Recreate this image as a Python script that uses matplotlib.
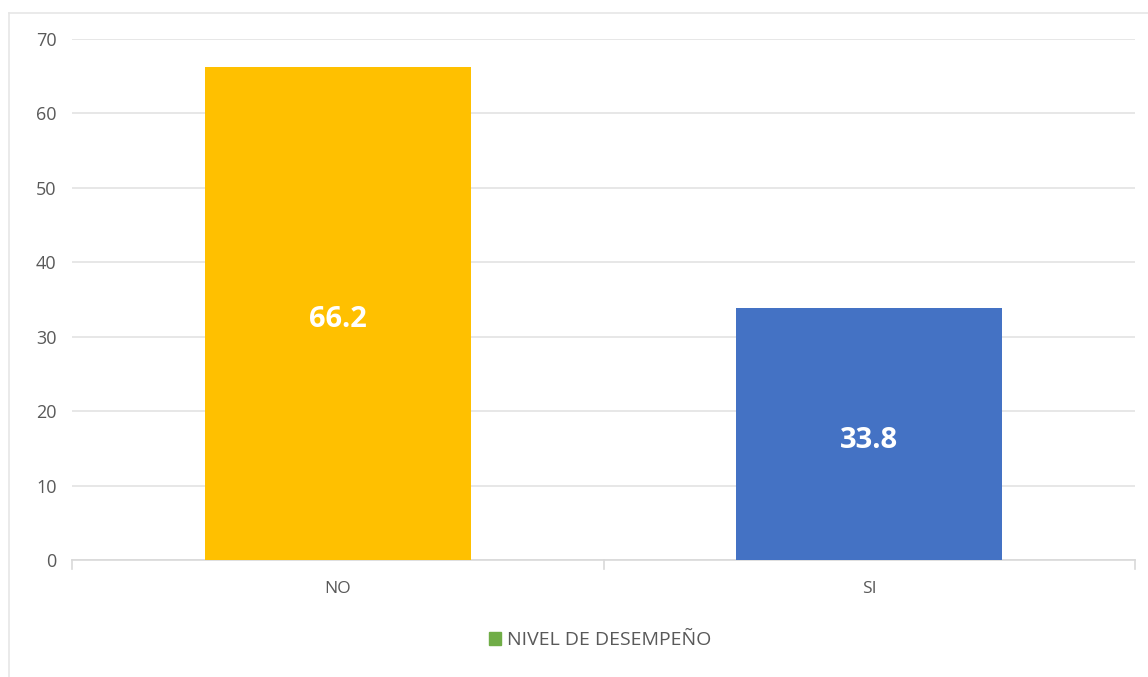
import matplotlib
matplotlib.use("Agg")
import matplotlib.pyplot as plt
from matplotlib.patches import Patch
from matplotlib.lines import Line2D

categories = ["NO", "SI"]
values = [66.2, 33.8]
bar_colors = ["#FFC000", "#4472C4"]
series_name = "NIVEL DE DESEMPEÑO"
yticks = [0, 10, 20, 30, 40, 50, 60, 70]

plt.rcParams['font.family'] = ['Open Sans', 'DejaVu Sans']

W, H = 1148, 677
fig = plt.figure(figsize=(W/100, H/100), dpi=100)
fig.patch.set_facecolor("white")

# faint frame
fig.add_artist(Line2D([9/W, 9/W], [0, 1-13/H], transform=fig.transFigure, color="#e6e6e6", lw=1.2))
fig.add_artist(Line2D([9/W, 1], [1-13/H, 1-13/H], transform=fig.transFigure, color="#e6e6e6", lw=1.2))

ax = fig.add_axes([72/W, 1-560/H, (1135-72)/W, (560-39)/H])
x = list(range(len(categories)))
bars = ax.bar(x, values, width=0.5, color=bar_colors, zorder=3)
ax.set_xlim(-0.5, len(categories)-0.5)
ax.set_ylim(0, 70)
ax.set_yticks(yticks)
ax.grid(axis="y", color="#e3e3e3", lw=1.2, zorder=0)
for s in ["top", "right", "left"]:
    ax.spines[s].set_visible(False)
ax.spines["bottom"].set_color("#d9d9d9")
ax.spines["bottom"].set_linewidth(1.2)
ax.tick_params(axis="y", length=0, pad=11, labelsize=13, labelcolor="#595959")
ax.set_xticks(x)
ax.set_xticklabels(categories)
ax.tick_params(axis="x", length=0, pad=15, labelsize=12.5, labelcolor="#595959")
# category boundary tick marks
for b in [-0.5, 0.5, 1.5]:
    ax.plot([b, b], [0, -1.2], color="#d9d9d9", lw=1.2, clip_on=False, zorder=2)

for b, v in zip(bars, values):
    ax.annotate(f"{v}", (b.get_x()+b.get_width()/2, v/2), xytext=(0, -4.5),
                textcoords="offset points", ha="center", va="center",
                color="white", fontsize=21, fontweight="bold", zorder=4)

handle = Patch(facecolor="#70AD47", edgecolor="#70AD47")
fig.legend([handle], [series_name], loc="center", bbox_to_anchor=(600/W, 1-640/H),
           frameon=False, fontsize=14, labelcolor="#595959", handlelength=0.65,
           handleheight=0.65, handletextpad=0.3)

fig.savefig("out.png", dpi=100, facecolor="white")
